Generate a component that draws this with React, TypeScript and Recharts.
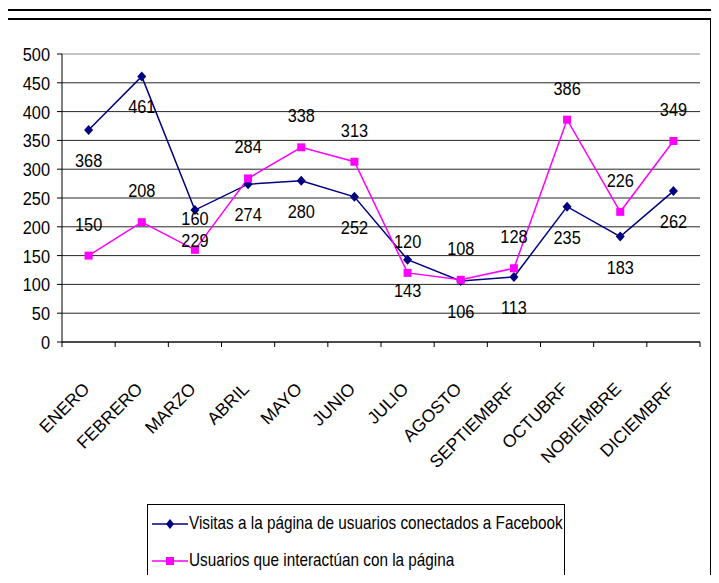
import { LineChart, Line, XAxis, YAxis, CartesianGrid, ReferenceLine, LabelList, Legend } from "recharts";

const months = [
  "ENERO", "FEBRERO", "MARZO", "ABRIL", "MAYO", "JUNIO",
  "JULIO", "AGOSTO", "SEPTIEMBRF", "OCTUBRF", "NOBIEMBRE", "DICIEMBRF",
];
const visitas = [368, 461, 229, 274, 280, 252, 143, 106, 113, 235, 183, 262];
const usuarios = [150, 208, 160, 284, 338, 313, 120, 108, 128, 386, 226, 349];
const yTicks = [0, 50, 100, 150, 200, 250, 300, 350, 400, 450, 500];

const visitasName = "Visitas a la página de usuarios conectados a Facebook";
const usuariosName = "Usuarios que interactúan con la página";

const NAVY = "#000080";
const PINK = "#ff00ff";
const FONT = "'Liberation Sans', Arial, sans-serif";
const NARROW = 0.86;

const data = months.map((m, i) => ({ month: m, visitas: visitas[i], usuarios: usuarios[i] }));

function Diamond(props: any) {
  const { cx, cy } = props;
  if (cx == null || cy == null) return null;
  return <polygon points={`${cx},${cy - 5} ${cx + 4.5},${cy} ${cx},${cy + 5} ${cx - 4.5},${cy}`} fill={NAVY} />;
}

function Square(props: any) {
  const { cx, cy } = props;
  if (cx == null || cy == null) return null;
  return <rect x={cx - 4} y={cy - 4} width={8} height={8} fill={PINK} />;
}

function NarrowText({ x, y, children, anchor = "middle", rotate = 0, size = 19, squeeze = NARROW }: any) {
  return (
    <g transform={`translate(${x},${y}) rotate(${rotate}) scale(${squeeze},1)`}>
      <text x={0} y={0} textAnchor={anchor} fontSize={size} fontFamily={FONT} fill="#000">
        {children}
      </text>
    </g>
  );
}

function YTick(props: any) {
  const { x, y, payload } = props;
  return (
    <NarrowText x={x} y={y + 7} anchor="end">
      {payload.value}
    </NarrowText>
  );
}

function XTick(props: any) {
  const { x, y, payload } = props;
  const half = payload.offset || 0;
  return (
    <g>
      {payload.index === 0 && <line x1={x - half} y1={y - 8} x2={x - half} y2={y - 3} stroke="#000" />}
      <line x1={x + half} y1={y - 8} x2={x + half} y2={y - 3} stroke="#000" />
      <NarrowText x={x + 2} y={y + 40} anchor="end" rotate={-45} size={17.5} squeeze={1}>
        {payload.value}
      </NarrowText>
    </g>
  );
}

function BelowLabel(props: any) {
  const { x, y, value } = props;
  return <NarrowText x={x} y={y + 37}>{value}</NarrowText>;
}

function AboveLabel(props: any) {
  const { x, y, value } = props;
  return <NarrowText x={x} y={y - 25}>{value}</NarrowText>;
}

function LegendBox() {
  const rows = [
    { name: visitasName, color: NAVY, marker: "diamond" },
    { name: usuariosName, color: PINK, marker: "square" },
  ];
  return (
    <div
      style={{
        width: 416,
        height: 74,
        border: "1px solid #000",
        background: "#fff",
        fontFamily: FONT,
        fontSize: 17.8,
        boxSizing: "content-box",
      }}
    >
      {rows.map((r, i) => (
        <div key={i} style={{ position: "relative", height: 37, display: "flex", alignItems: "center" }}>
          <svg width={40} height={14} style={{ marginLeft: 4, flex: "none" }}>
            <line x1={0} y1={7} x2={36} y2={7} stroke={r.color} strokeWidth={1.5} />
            {r.marker === "diamond" ? (
              <polygon points="18,2 22,7 18,12 14,7" fill={r.color} />
            ) : (
              <rect x={14} y={3} width={8} height={8} fill={r.color} />
            )}
          </svg>
          <span
            style={{
              display: "inline-block",
              whiteSpace: "nowrap",
              transform: `scaleX(${NARROW})`,
              transformOrigin: "left center",
              marginLeft: -3,
            }}
          >
            {r.name}
          </span>
        </div>
      ))}
    </div>
  );
}

export default function App() {
  return (
    <div style={{ position: "relative", width: 719, height: 583, margin: -8, overflow: "hidden", background: "#fff" }}>
      <div style={{ position: "absolute", left: 0, top: 9, width: 719, height: 2, background: "#000" }} />
      <div
        style={{
          position: "absolute",
          left: 6,
          top: 18,
          width: 702,
          height: 620,
          border: "2px solid #000",
        }}
      />
      <div style={{ position: "absolute", left: 0, top: 0 }}>
        <LineChart width={719} height={583} data={data} margin={{ top: 54, right: 19, bottom: 211, left: 0 }}>
          <CartesianGrid vertical={false} stroke="#000" strokeOpacity={0.85} />
          <ReferenceLine y={500} stroke="#d4d4d4" strokeWidth={1.5} />
          <XAxis
            dataKey="month"
            scale="band"
            height={30}
            stroke="#000"
            tickLine={false}
            tick={<XTick />}
            interval={0}
            tickSize={6}
            tickMargin={2}
          />
          <YAxis
            domain={[0, 500]}
            ticks={yTicks}
            interval={0}
            width={62}
            stroke="#000"
            tickSize={5}
            tickMargin={7}
            tick={<YTick />}
          />
          <Line
            type="linear"
            dataKey="visitas"
            name={visitasName}
            stroke={NAVY}
            strokeWidth={1.5}
            dot={<Diamond />}
            activeDot={false}
            isAnimationActive={false}
          >
            <LabelList dataKey="visitas" content={<BelowLabel />} />
          </Line>
          <Line
            type="linear"
            dataKey="usuarios"
            name={usuariosName}
            stroke={PINK}
            strokeWidth={1.5}
            dot={<Square />}
            activeDot={false}
            isAnimationActive={false}
          >
            <LabelList dataKey="usuarios" content={<AboveLabel />} />
          </Line>
          <Legend
            layout="horizontal"
            verticalAlign="middle"
            align="center"
            content={() => <LegendBox />}
            wrapperStyle={{ position: "absolute", left: 147, top: 504, width: "auto" }}
          />
        </LineChart>
      </div>
    </div>
  );
}
